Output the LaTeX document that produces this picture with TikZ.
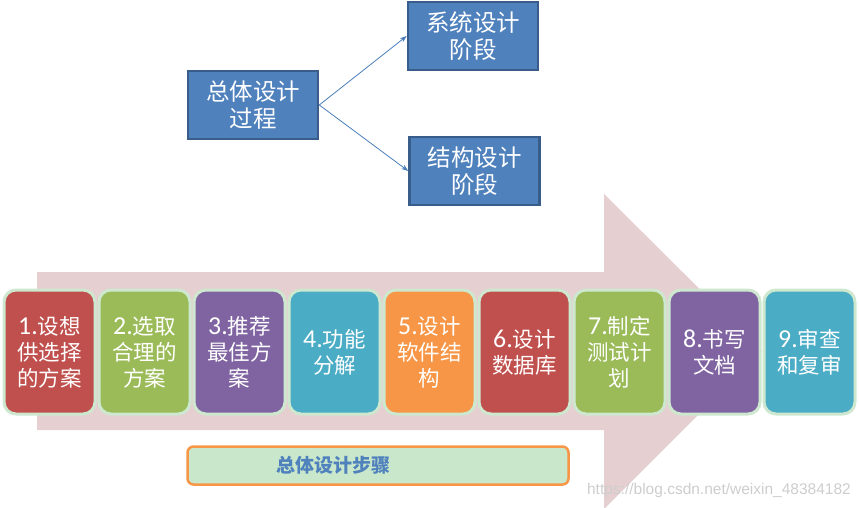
\documentclass[tikz,border=0pt]{standalone}
\usepackage{fontspec}
\setmainfont{Noto Sans CJK SC}
\newfontfamily\carl[Scale=1.2]{Carlito}
\newfontfamily\arial{Liberation Sans}
\usetikzlibrary{arrows.meta}
\definecolor{arrowpink}{RGB}{230,207,208}
\definecolor{topblue}{RGB}{79,129,189}
\definecolor{topborder}{RGB}{56,93,138}
\definecolor{linkblue}{RGB}{74,126,187}
\definecolor{c1}{RGB}{192,80,77}
\definecolor{c2}{RGB}{155,187,89}
\definecolor{c3}{RGB}{128,100,162}
\definecolor{c4}{RGB}{75,172,198}
\definecolor{c5}{RGB}{247,150,70}
\definecolor{stepborder}{RGB}{205,232,207}
\definecolor{labelfill}{RGB}{201,231,203}
\definecolor{wm}{RGB}{205,205,205}
\begin{document}
\begin{tikzpicture}[x=1pt,y=-1pt,
  topbox/.style={draw=topborder,line width=2.5pt,fill=topblue,text=white,
    minimum width=130pt,minimum height=68pt,inner sep=0pt,align=center,
    font=\fontsize{23.5}{27}\selectfont},
  stepbox/.style={draw=stepborder,line width=3pt,rounded corners=12pt,text=white,
    minimum width=91pt,minimum height=124pt,inner sep=0pt,align=center,
    font=\fontsize{21.5}{26}\selectfont},
  conn/.style={draw=linkblue,line width=0.8pt,-{Stealth[length=7pt,width=5pt]}}]
\useasboundingbox (0,0) rectangle (859,508);
% big arrow
\fill[arrowpink] (37,272) -- (604,272) -- (604,194) -- (762,351) -- (604,509)
  -- (604,430) -- (37,430) -- cycle;
% top boxes
\node[topbox] (main) at (253,105) {总体设计\\过程};
\node[topbox] (sys) at (473,36) {系统设计\\阶段};
\node[topbox] (str) at (474.5,171) {结构设计\\阶段};
\draw[conn] (main.east) -- (sys.west);
\draw[conn] (main.east) -- (str.west);
% steps
\node[stepbox,fill=c1] (s1) at (49.5,352) {{\carl 1.}设想\\供选择\\的方案};
\node[stepbox,fill=c2] (s2) at (144.5,352) {{\carl 2.}选取\\合理的\\方案};
\node[stepbox,fill=c3] (s3) at (239.5,352) {{\carl 3.}推荐\\最佳方\\案};
\node[stepbox,fill=c4] (s4) at (334.5,352) {{\carl 4.}功能\\分解};
\node[stepbox,fill=c5] (s5) at (429.5,352) {{\carl 5.}设计\\软件结\\构};
\node[stepbox,fill=c1] (s6) at (524.5,352) {{\carl 6.}设计\\数据库};
\node[stepbox,fill=c2] (s7) at (619.5,352) {{\carl 7.}制定\\测试计\\划};
\node[stepbox,fill=c3] (s8) at (714.5,352) {{\carl 8.}书写\\文档};
\node[stepbox,fill=c4] (s9) at (809.5,352) {{\carl 9.}审查\\和复审};
% label
\node[draw=c5,line width=2.5pt,fill=labelfill,rounded corners=6pt,
  minimum width=381pt,minimum height=38pt,inner sep=0pt] (lab) at (378,465.5) {};
\node[text=topblue,inner sep=0pt,font=\fontsize{19}{19}\selectfont\bfseries]
  (labt) at (333,465.5) {总体设计步骤};
% watermark
\node[text=wm,font=\arial\fontsize{15.5}{15.5}\selectfont,inner sep=0pt,anchor=east] (wmk) at (851,490) {https://blog.csdn.net/weixin\_48384182};
\end{tikzpicture}
\end{document}
